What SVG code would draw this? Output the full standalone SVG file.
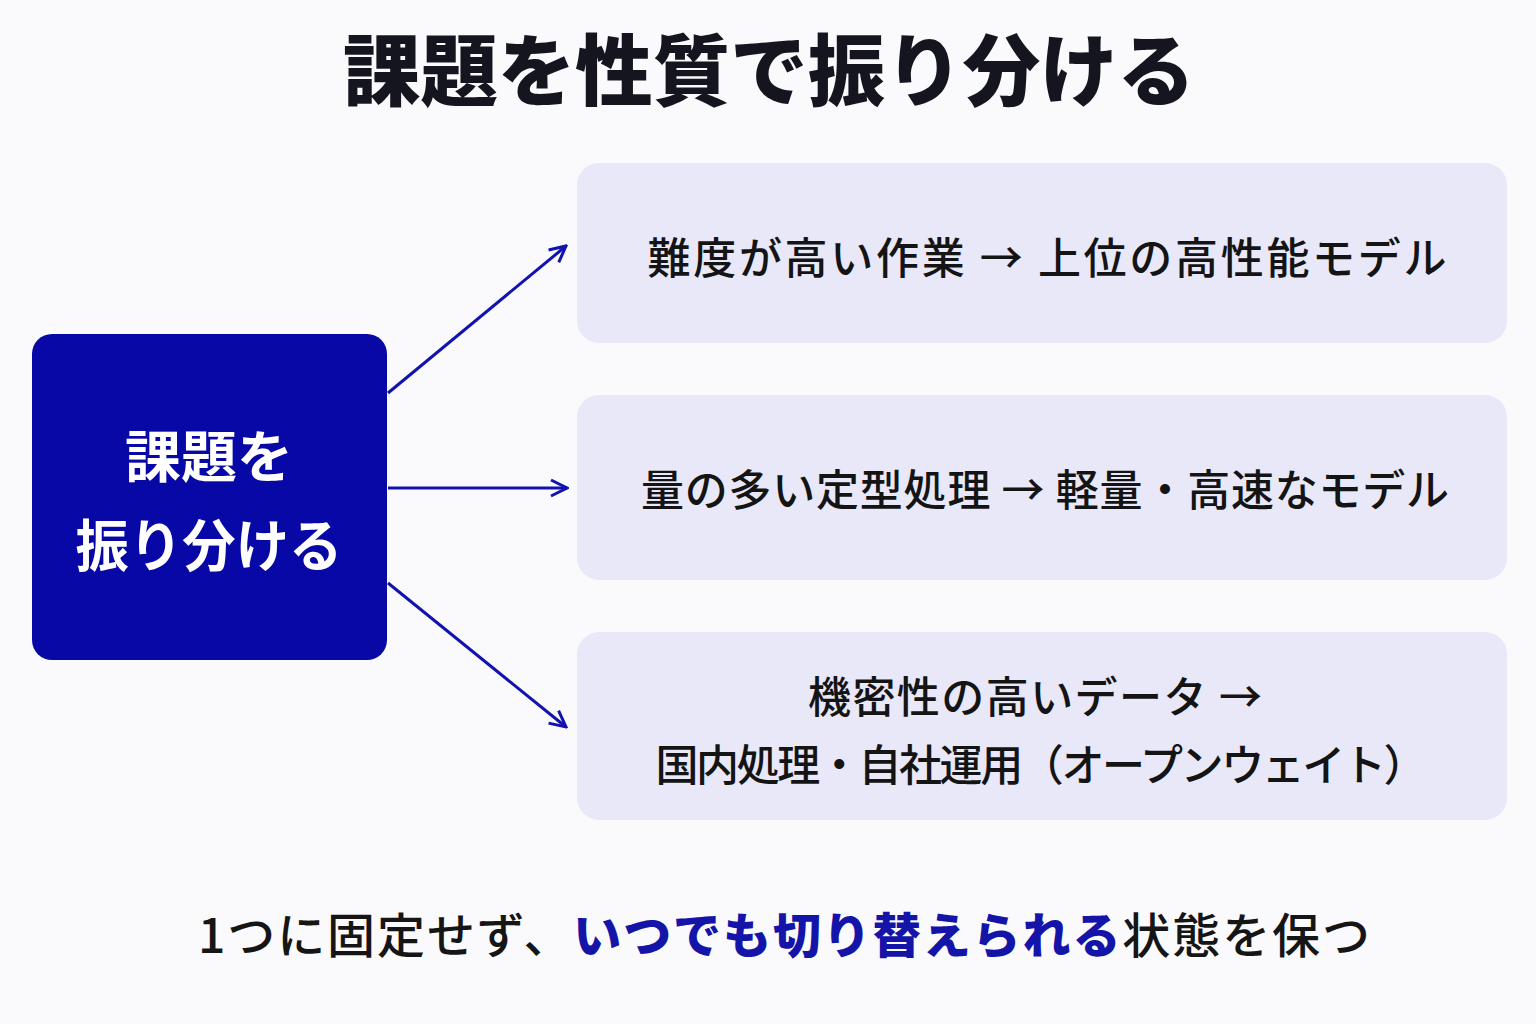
<svg xmlns="http://www.w3.org/2000/svg" width="1536" height="1024" viewBox="0 0 1536 1024">
<defs>
<style>
.jp{font-family:"Noto Sans CJK JP","Noto Sans CJK SC",sans-serif;}
.title{font-size:78px;font-weight:900;fill:#15151f;}
.main{font-size:56px;font-weight:700;fill:#ffffff;}
.opt{font-size:43px;font-weight:500;fill:#141414;}
.box{fill:#e8e8f9;}
.conn{stroke:#1212ad;stroke-width:3;fill:none;}
.foot{font-size:48px;font-weight:500;fill:#151515;}
.hl{font-weight:900;fill:#1414a8;}
</style>
<marker id="ah" viewBox="0 0 20 20" refX="18" refY="10" markerWidth="20" markerHeight="20" markerUnits="userSpaceOnUse" orient="auto">
<path d="M2,2 L18,10 L2,18" fill="none" stroke="#1212ad" stroke-width="3"/>
</marker>
</defs>
<rect width="1536" height="1024" fill="#fafafd"/>
<text class="jp title" x="769" y="100" text-anchor="middle" textLength="852" lengthAdjust="spacingAndGlyphs">課題を性質で振り分ける</text>
<g id="connectors">
<line class="conn" x1="388" y1="393" x2="566" y2="246" marker-end="url(#ah)"/>
<line class="conn" x1="388" y1="488" x2="567" y2="488" marker-end="url(#ah)"/>
<line class="conn" x1="388" y1="583" x2="566" y2="727" marker-end="url(#ah)"/>
</g>
<g id="node-main">
<rect x="32" y="334" width="355" height="326" rx="20" fill="#0808a6"/>
<text class="jp main" x="209" y="477" text-anchor="middle">課題を</text>
<text class="jp main" x="209" y="566" text-anchor="middle" textLength="267" lengthAdjust="spacingAndGlyphs">振り分ける</text>
</g>
<g id="node-hard">
<rect class="box" x="577" y="163" width="930" height="180" rx="22"/>
<text class="jp opt" x="1047" y="274" text-anchor="middle" textLength="799" lengthAdjust="spacing">難度が高い作業 → 上位の高性能モデル</text>
</g>
<g id="node-volume">
<rect class="box" x="577" y="395" width="930" height="185" rx="22"/>
<text class="jp opt" x="1045" y="506" text-anchor="middle" textLength="808" lengthAdjust="spacing">量の多い定型処理 → 軽量・高速なモデル</text>
</g>
<g id="node-secure">
<rect class="box" x="577" y="632" width="930" height="188" rx="22"/>
<text class="jp opt" x="1035" y="713" text-anchor="middle" textLength="454" lengthAdjust="spacing">機密性の高いデータ →</text>
<text class="jp opt" x="1041" y="781" text-anchor="middle" textLength="771" lengthAdjust="spacing">国内処理・自社運用（オープンウェイト）</text>
</g>
<text class="jp foot" x="784" y="953" text-anchor="middle" textLength="1172" lengthAdjust="spacing">1つに固定せず、<tspan class="hl">いつでも切り替えられる</tspan>状態を保つ</text>
</svg>
